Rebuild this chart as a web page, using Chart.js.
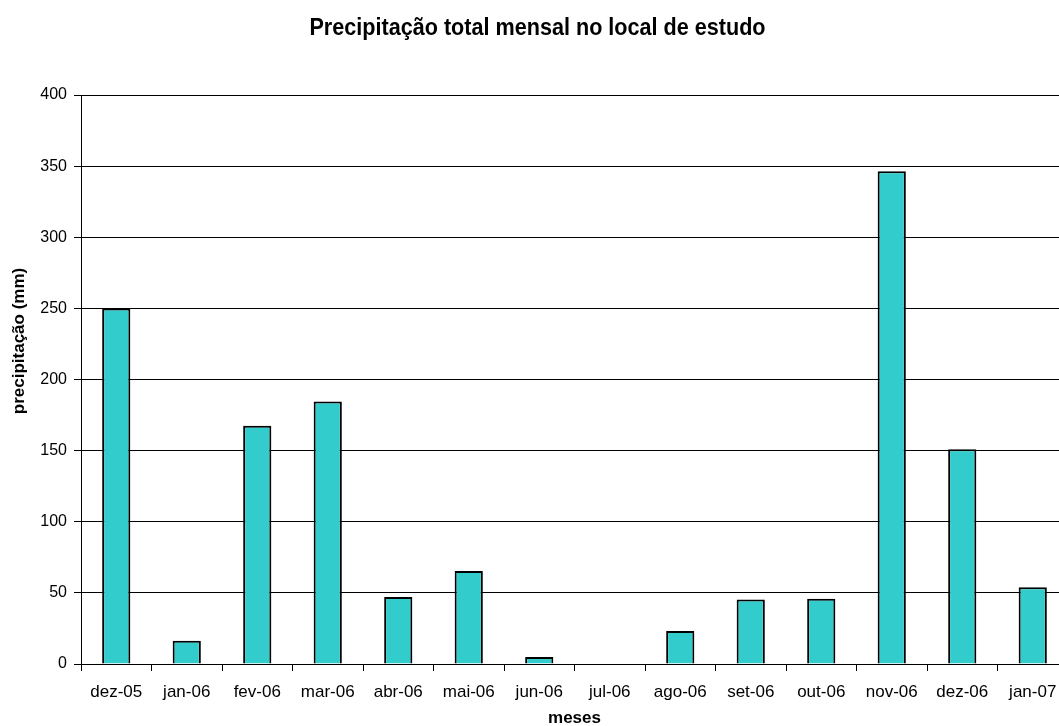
<!DOCTYPE html>
<html>
<head>
<meta charset="utf-8">
<title>Precipitação total mensal</title>
<script src="https://cdn.jsdelivr.net/npm/chart.js@4/dist/chart.umd.min.js"></script>
<style>
  html, body { margin: 0; padding: 0; background: #fff; overflow: hidden; }
  #wrap { width: 1069px; height: 726px; }
</style>
</head>
<body>
<div id="wrap"><canvas id="chart" width="1069" height="726"></canvas></div>
<script>
const months = ["dez-05", "jan-06", "fev-06", "mar-06", "abr-06", "mai-06", "jun-06",
  "jul-06", "ago-06", "set-06", "out-06", "nov-06", "dez-06", "jan-07"];
const rainfall = [250, 16.4, 167.5, 184.6, 47.1, 65.3, 4.9, 0, 23.2, 45.3, 45.8, 346.4, 151, 53.9];
const yTicks = [0, 50, 100, 150, 200, 250, 300, 350, 400];
const chartTitle = "Precipitação total mensal no local de estudo";
const yTitle = "precipitação (mm)";

const FONT = "'Liberation Sans', Arial, sans-serif";

// condensed bold heading and the vertical axis title
const textPlugin = {
  id: "extraText",
  afterDraw(chart) {
    const ctx = chart.ctx;
    ctx.save();
    ctx.fillStyle = "#000";
    ctx.textAlign = "center";
    ctx.textBaseline = "alphabetic";
    ctx.font = "bold 24px " + FONT;
    ctx.translate(537.5, 35);
    ctx.scale(0.9, 1);
    ctx.fillText(chartTitle, 0, 0);
    ctx.restore();

    ctx.save();
    ctx.fillStyle = "#000";
    ctx.translate(19, 341);
    ctx.rotate(-Math.PI / 2);
    ctx.font = "bold 17px " + FONT;
    ctx.textAlign = "center";
    ctx.textBaseline = "middle";
    ctx.fillText(yTitle, 0, 0);
    ctx.restore();
  }
};

new Chart(document.getElementById("chart").getContext("2d"), {
  type: "bar",
  data: {
    labels: months,
    datasets: [{
      label: yTitle,
      data: rainfall,
      backgroundColor: "#33cccc",
      borderColor: "#000",
      borderWidth: 2,
      borderSkipped: "bottom",
      categoryPercentage: 1,
      barPercentage: 0.4
    }]
  },
  options: {
    responsive: false,
    animation: false,
    layout: { padding: { left: 0, right: 1, top: 95, bottom: 0 } },
    scales: {
      x: {
        grid: {
          display: true,
          drawOnChartArea: false,
          drawTicks: true,
          tickLength: 7,
          color: "#000",
          offset: true
        },
        border: { color: "#000", width: 1 },
        ticks: {
          color: "#000",
          font: { family: FONT, size: 17 },
          padding: 11,
          maxRotation: 0,
          autoSkip: false
        },
        title: {
          display: true,
          text: "meses",
          color: "#000",
          font: { family: FONT, size: 17, weight: "bold" },
          padding: { top: 4, bottom: -3 }
        },
        afterFit: scale => { scale.height = 62; }
      },
      y: {
        min: 0,
        max: 400,
        afterBuildTicks: scale => { scale.ticks = yTicks.map(v => ({ value: v })); },
        grid: {
          color: "#000",
          tickLength: 7,
          drawTicks: true
        },
        border: { color: "#000", width: 1 },
        ticks: {
          color: "#000",
          font: { family: FONT, size: 16 },
          padding: 7
        },
        afterFit: scale => { scale.width = 81; }
      }
    },
    plugins: {
      legend: { display: false },
      tooltip: { enabled: false },
      title: { display: false }
    }
  },
  plugins: [textPlugin]
});
</script>
</body>
</html>
